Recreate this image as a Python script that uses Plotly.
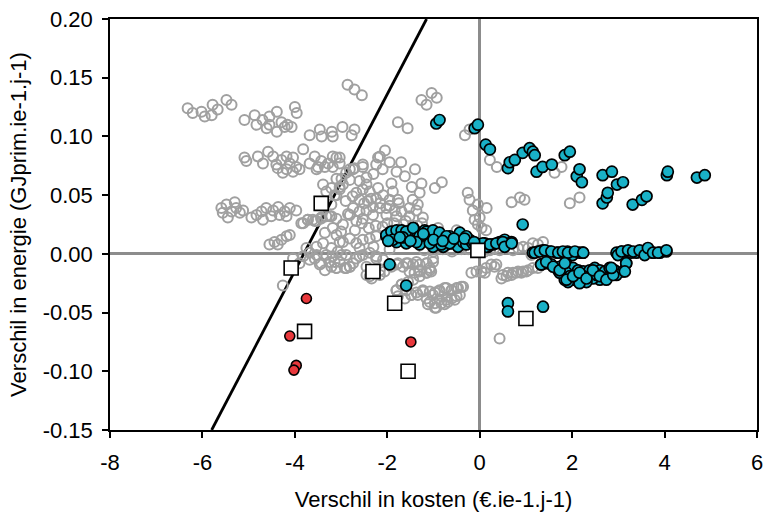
import plotly.graph_objects as go

# Overige varianten (open grijze cirkels)
gray_x = [
    -6.32, -6.21, -6.02, -5.95, -5.80, -5.78, -5.67, -5.48, -5.37,
    -5.09, -4.87, -4.83, -4.70, -4.61, -4.55, -4.55, -4.39, -4.39, -4.29, -4.22, -4.16, -4.07, -3.96, -4.00,
    -3.68, -3.46, -3.42, -3.20, -3.18, -2.97, -2.77, -2.71,
    -2.86, -2.71, -2.55,
    -1.26, -1.15, -1.04, -0.93, -1.77, -1.56, -0.32, -0.22,
    0.22, 0.37, 1.62, 1.77, 1.95, 2.16, 0.69, 0.87, 0.97,
    -0.26, -0.22, -0.15, -0.04, 0.00, 0.15, -0.04, -0.11, 0.04, 0.14,
    -2.16, -0.97, -0.82, -1.47, -1.26, -1.30, -1.45, -1.34, -1.23, -1.91, -1.88, -1.95, -1.77,
    -5.09, -5.05, -4.80, -4.69, -4.58, -4.47, -4.40, -4.29, -4.18, -4.11, -4.04, -3.97, -3.82, -3.68, -3.57,
    -3.50, -3.43, -3.28, -3.18, -3.03, -2.89, -2.74, -2.53,
    -4.37, -4.26, -4.18, -4.04, -3.90, -3.53, -3.35, -3.18,
    -5.59, -5.56, -5.48, -5.45, -5.37, -5.30, -5.27, -5.19, -5.12, -4.94, -4.83, -4.72, -4.69, -4.62,
    -4.51, -4.47, -4.36, -4.33, -4.22, -4.18, -4.11, -3.97, -3.86, -3.72, -3.57, -3.43, -3.25,
    -4.55, -4.44, -4.29, -4.18, -4.37, -4.11,
    -3.82, -3.72, -3.61, -3.53, -3.43, -3.32, -3.21,
    -3.75, -3.68, -3.53, -3.57, -3.39, -3.32, -3.21, -3.43, -3.25, -3.10, -3.03, -3.14, -2.99, -2.89,
    -3.39, -3.32, -3.21, -3.10, -3.03, -2.99,
    -4.26, -4.04, -3.90, -3.82, -3.68, -3.53, -3.46, -3.35, -3.21, -3.18, -3.03, -2.89, -2.74, -2.60,
    -2.45, -2.38, -2.24,
    -3.10, -2.96, -3.14, -3.03, -3.21, -2.81, -2.60, -2.45, -2.53, -2.67, -2.38, -2.20, -2.09, -2.24,
    -2.42, -2.60, -2.74, -2.81, -2.60, -2.45, -2.31, -2.16, -2.02, -1.84, -1.69, -1.52, -1.37, -1.52,
    -1.80, -2.02, -2.31, -2.53, -2.67, -3.10, -3.18, -2.96, -2.81, -2.96, -2.67, -2.53, -2.38, -2.24,
    -3.07, -2.89, -2.67, -2.53, -2.38, -2.24, -2.09, -1.80, -1.59, -1.37, -1.15, -1.01, -1.08, -1.30,
    -1.52, -3.10, -2.81,
    -3.10, -3.03, -2.81, -2.71, -2.53, -2.20, -2.24,
    -2.05, -1.95, -1.80, -1.62, -1.40, -2.30, -2.45, -1.70, -2.10,
    -3.10, -2.92, -2.81, -2.45, -2.34, -2.16, -2.06, -1.80, -1.69, -1.55, -1.44, -1.30, -1.15, -1.08,
    -1.77, -1.62, -1.48, -1.34, -1.23, -1.15, -1.01, -0.87, -0.76, -0.61, -0.47, -0.36,
    -1.12, -0.97, -0.83, -0.69, -0.54,
    -2.16, -1.91, -1.77, -1.66, -1.55, -1.44, -1.30, -1.15, -1.01, -1.41, -1.30, -1.15, -1.05,
    -1.80, -1.69, -1.59, -1.48, -1.37, -1.23, -1.08, -0.97, -0.87, -0.72, -0.61, -0.50, -0.40,
    -1.08, -0.97, -0.87, -0.72, -0.61, -0.50, -0.43, -0.94, -0.76,
    -0.18, -0.07, 0.04, 0.14, 0.32, 0.47, 0.58, 0.69, 0.79, 0.90, 1.01, 1.15, 1.26,
    0.04, 0.11, 0.25, 0.36, 0.50, 0.61, 0.72, 0.83, 0.94, 1.05, 1.37,
    0.11, 0.22, 0.32, 0.43, 0.72, 0.83, 0.94, 1.05, 1.15, 1.26, 1.37, 1.12, 1.19,
    0.43,
    -1.20, -1.00, -0.80, -0.60, -0.40, -1.35, -0.90, -0.50, -0.25,
    -2.90, -2.75, -2.50, -2.35, -2.15, -1.95, -1.75, -2.85, -2.55, -2.25, -2.00, -1.65,
    -3.00, -2.70, -2.40, -2.10, -1.85, -1.60, -1.45, -1.25, -2.60, -2.30, -1.95, -3.35,
]
gray_y = [
    0.124, 0.120, 0.121, 0.117, 0.118, 0.127, 0.123, 0.131, 0.127,
    0.114, 0.118, 0.110, 0.114, 0.107, 0.117, 0.110, 0.104, 0.121, 0.112, 0.108, 0.110, 0.108, 0.120, 0.125,
    0.101, 0.106, 0.100, 0.104, 0.100, 0.108, 0.101, 0.106,
    0.144, 0.140, 0.135,
    0.131, 0.127, 0.137, 0.133, 0.112, 0.107, 0.101, 0.106,
    0.080, 0.074, 0.069, 0.074, 0.043, 0.048, 0.044, 0.048, 0.046,
    0.052, 0.046, 0.037, 0.042, 0.031, 0.039, 0.025, 0.029, 0.022, 0.020,
    0.083, 0.056, 0.061, 0.057, 0.060, 0.052, 0.046, 0.042, 0.031, 0.060, 0.053, 0.046, 0.046,
    0.082, 0.079, 0.083, 0.077, 0.087, 0.083, 0.076, 0.080, 0.083, 0.077, 0.082, 0.074, 0.089, 0.077, 0.083,
    0.074, 0.079, 0.077, 0.083, 0.082, 0.069, 0.072, 0.076,
    0.073, 0.069, 0.072, 0.070, 0.072, 0.072, 0.074, 0.074,
    0.039, 0.035, 0.042, 0.031, 0.036, 0.044, 0.039, 0.035, 0.037, 0.031, 0.033, 0.036, 0.029, 0.039,
    0.032, 0.037, 0.040, 0.033, 0.036, 0.032, 0.039, 0.037, 0.026, 0.029, 0.028, 0.031, 0.032,
    0.008, 0.010, 0.012, 0.015, 0.008, 0.016,
    0.026, 0.029, 0.029, 0.028, 0.030, 0.032, 0.032,
    0.005, 0.001, 0.006, -0.004, 0.009, -0.001, 0.005, -0.008, -0.007, 0.016, 0.010, -0.007, -0.001, -0.012,
    0.059, 0.053, 0.056, 0.050, 0.057, 0.064,
    -0.027, -0.004, -0.008, -0.002, -0.005, -0.001, -0.009, -0.014, -0.011, -0.002, -0.007, -0.012, -0.008, -0.002,
    -0.011, -0.019, -0.004,
    0.064, 0.059, 0.050, 0.055, 0.042, 0.063, 0.062, 0.059, 0.055, 0.052, 0.053, 0.056, 0.050, 0.047,
    0.045, 0.046, 0.039, 0.033, 0.036, 0.037, 0.040, 0.039, 0.039, 0.037, 0.036, 0.039, 0.037, 0.032,
    0.032, 0.033, 0.033, 0.030, 0.028, 0.030, 0.022, 0.025, 0.013, 0.010, 0.009, 0.012, 0.013, 0.015,
    0.002, -0.001, -0.004, -0.001, 0.001, -0.002, -0.005, -0.009, -0.008, -0.007, -0.008, -0.004, -0.012, -0.014,
    -0.015, -0.012, -0.011,
    0.082, 0.077, 0.072, 0.073, 0.074, 0.082, 0.076,
    0.088, 0.078, 0.070, 0.066, 0.072, 0.068, 0.065, 0.078, 0.072,
    -0.012, -0.012, -0.011, -0.018, -0.021, -0.018, -0.015, -0.031, -0.026, -0.024, -0.022, -0.019, -0.016, -0.014,
    -0.036, -0.038, -0.035, -0.035, -0.032, -0.038, -0.035, -0.032, -0.029, -0.031, -0.029, -0.028,
    -0.043, -0.046, -0.042, -0.041, -0.039,
    -0.014, -0.011, -0.008, -0.011, -0.008, -0.009, -0.009, -0.008, -0.007, -0.016, -0.015, -0.016, -0.015,
    -0.031, -0.026, -0.031, -0.035, -0.033, -0.031, -0.032, -0.033, -0.031, -0.029, -0.031, -0.029, -0.028,
    -0.041, -0.042, -0.039, -0.039, -0.038, -0.036, -0.035, -0.046, -0.043,
    -0.016, -0.015, -0.015, -0.012, -0.011, -0.021, -0.019, -0.018, -0.016, -0.016, -0.015, -0.012, -0.012,
    -0.015, -0.016, -0.009, -0.009, -0.018, -0.016, -0.016, -0.015, -0.015, -0.014, -0.009,
    0.002, 0.003, 0.005, 0.003, 0.003, 0.005, 0.006, 0.005, 0.009, 0.008, 0.010, -0.001, 0.001,
    -0.072,
    0.003, 0.002, 0.004, 0.002, 0.004, 0.024, 0.022, 0.020, 0.004,
    0.045, 0.049, 0.043, 0.047, 0.043, 0.041, 0.043, 0.034, 0.026, 0.024, 0.026, 0.025,
    0.019, 0.020, 0.022, 0.023, 0.026, 0.028, 0.024, 0.026, 0.005, 0.006, 0.004, 0.018,
]

# Varianten met voordeel (cyaan)
cyan_x = [
    -0.94, -0.87, -0.11, -0.04, 0.13, 0.22,
    0.61, 0.65, 0.76, 0.93, 1.08, 1.15, 1.19, 1.23, 1.36, 1.56, 1.84, 1.95,
    2.10, 2.16, 2.21, 2.66, 2.86, 2.97, 3.10, 2.66, 2.75, 2.77, 3.31, 3.51, 3.61,
    4.05, 4.07, 4.70, 4.87, 0.93,
    -2.02, -1.95, -1.91, -1.84, -1.77, -1.69, -1.62, -1.55, -1.48, -1.44, -1.37, -1.34, -1.26, -1.19,
    -1.15, -1.08, -1.05, -0.97, -0.94, -0.87, -0.83, -0.76, -0.72, -0.65, -0.61, -0.54, -0.47, -0.43,
    -0.36, -0.29, -0.22, -0.15, -0.07, 0.04, 0.11, 0.18, -1.80, -1.59, -1.30, -1.01, -0.79,
    0.00, 0.14, 0.29, 0.43, 0.54, 0.69, -0.43, -0.29, -0.58,
    -2.02, -1.91, -1.80, -1.69, -1.59, -1.44, -1.30, -1.15, -1.01, -0.87, -0.72, -1.88, -1.66, -1.37,
    -1.08, -0.83, -0.65,
    0.07, 0.22, 0.36, 0.50, 0.54, 0.69,
    1.15, 1.26, 1.36, 1.52, 1.67, 1.80, 1.90, 2.01, 2.16, 2.23,
    1.19, 1.30, 1.41, 1.55, 1.70, 1.80, 1.91, 2.06, 2.24,
    1.33, 1.44, 1.55, 1.73, 1.88, 1.95, 2.02, 2.13, 2.24, 2.38, 2.49, 2.60, 2.71, 2.81, 2.92, 2.85,
    2.74, 2.60, 2.45, 2.31, 2.16, 2.02, 1.91, 1.84, 1.70, 1.73, 1.88, 2.09, 2.24, 2.53, 3.10, 3.17,
    2.96, 2.16, 1.95,
    1.33, 1.44, 1.59, 1.73, 1.84, 1.88, 2.02, 2.16, 2.31, 2.45, 2.60, 2.74, 2.89,
    2.96, 3.07, 3.17, 3.28, 3.39, 3.54, 3.64, 3.75, 3.90, 4.04,
    2.99, 3.07, 3.21, 3.32, 3.46, 3.57, 3.64, 3.75, 3.86, 4.04,
    3.17, 3.14, 2.85,
    -1.95, -1.59, 0.61, 0.61, 1.37,
    -1.98, -1.73, -1.50, -1.22, -1.00, -0.80, -0.56, -0.33, -0.12,
]
cyan_y = [
    0.111, 0.114, 0.107, 0.110, 0.093, 0.089,
    0.073, 0.078, 0.080, 0.086, 0.090, 0.087, 0.084, 0.070, 0.074, 0.076, 0.084, 0.087,
    0.066, 0.072, 0.061, 0.067, 0.070, 0.059, 0.061, 0.043, 0.048, 0.052, 0.042, 0.046, 0.049,
    0.067, 0.070, 0.065, 0.067, 0.025,
    0.015, 0.018, 0.012, 0.019, 0.013, 0.016, 0.012, 0.019, 0.015, 0.022, 0.012, 0.018, 0.013, 0.020,
    0.015, 0.010, 0.019, 0.013, 0.008, 0.016, 0.010, 0.013, 0.008, 0.015, 0.009, 0.010, 0.006, 0.016,
    0.010, 0.008, 0.012, 0.009, 0.008, 0.006, 0.009, 0.006, 0.010, 0.009, 0.008, 0.006, 0.006,
    0.008, 0.006, 0.008, 0.010, 0.012, 0.010, 0.018, 0.015, 0.012,
    0.016, 0.019, 0.020, 0.020, 0.019, 0.022, 0.015, 0.019, 0.020, 0.018, 0.015, 0.012, 0.014, 0.010,
    0.009, 0.008, 0.009,
    0.009, 0.008, 0.009, 0.010, 0.006, 0.009,
    0.001, 0.002, 0.003, 0.002, 0.001, 0.001, 0.002, -0.001, 0.001, 0.001,
    0.001, 0.002, 0.003, 0.002, 0.001, 0.002, 0.001, 0.002, 0.001,
    -0.009, -0.008, -0.009, -0.011, -0.009, -0.015, -0.012, -0.014, -0.015, -0.014, -0.012, -0.014, -0.015, -0.012, -0.014, -0.018,
    -0.021, -0.022, -0.021, -0.024, -0.022, -0.022, -0.024, -0.022, -0.014, -0.016, -0.016, -0.019, -0.019, -0.018, -0.015, -0.008,
    -0.018, -0.025, -0.019,
    -0.009, -0.007, -0.011, -0.014, -0.008, -0.022, -0.019, -0.016, -0.021, -0.014, -0.019, -0.022, -0.018,
    0.001, 0.002, 0.002, 0.001, 0.001, 0.001, 0.002, 0.001, 0.001, 0.002,
    -0.001, 0.002, 0.003, 0.002, 0.003, -0.001, 0.005, 0.001, 0.001, 0.003,
    -0.008, -0.015, -0.012,
    -0.009, -0.027, -0.042, -0.049, -0.045,
    0.011, 0.014, 0.011, 0.017, 0.012, 0.011, 0.013, 0.013, 0.010,
]

# Varianten met nadeel (rood)
red_x = [-3.75, -4.11, -3.97, -4.02, -1.49]
red_y = [-0.038, -0.070, -0.095, -0.099, -0.075]

# Referentiewoningen (open vierkanten)
square_x = [-3.43, -4.08, -3.79, -2.31, -1.84, -1.55, -0.04, 1.00]
square_y = [0.043, -0.012, -0.066, -0.015, -0.042, -0.100, 0.003, -0.055]

# Grenslijn
line_x = [-5.80, -1.15]
line_y = [-0.15, 0.20]

x_ticks = [-8, -6, -4, -2, 0, 2, 4, 6]
x_labels = ["-8", "-6", "-4", "-2", "0", "2", "4", "6"]
y_ticks = [-0.15, -0.10, -0.05, 0.0, 0.05, 0.10, 0.15, 0.20]
y_labels = ["-0.15", "-0.10", "-0.05", "0.00", "0.05", "0.10", "0.15", "0.20"]

FONT = "Liberation Sans, Arial, sans-serif"

fig = go.Figure()
fig.add_trace(go.Scatter(
    x=line_x, y=line_y, mode="lines",
    line=dict(color="black", width=2.8), hoverinfo="skip",
))
fig.add_trace(go.Scatter(
    x=gray_x, y=gray_y, mode="markers",
    marker=dict(symbol="circle-open", size=10, color="#a0a0a0", line=dict(width=2)),
))
fig.add_trace(go.Scatter(
    x=cyan_x, y=cyan_y, mode="markers",
    marker=dict(symbol="circle", size=11, color="#19b1c7", line=dict(color="black", width=1.7)),
))
fig.add_trace(go.Scatter(
    x=red_x, y=red_y, mode="markers",
    marker=dict(symbol="circle", size=10, color="#e8383c", line=dict(color="black", width=1.6)),
))
fig.add_trace(go.Scatter(
    x=square_x, y=square_y, mode="markers",
    marker=dict(symbol="square", size=14, color="white", line=dict(color="black", width=1.6)),
))

axis_common = dict(
    showgrid=False, automargin=False,
    showline=True, linecolor="black", linewidth=1.5, mirror=True,
    ticks="outside", ticklen=6, tickwidth=1.5, tickcolor="black",
    zeroline=True, zerolinecolor="#8c8c8c", zerolinewidth=3,
    tickfont=dict(family=FONT, size=22, color="black"),
    ticklabeloverflow="allow",
)

fig.update_xaxes(
    range=[-8, 6], tickvals=x_ticks, ticktext=x_labels,
    ticklabelstandoff=6,
    title=dict(text="Verschil in kosten (€.ie-1.j-1)", font=dict(family=FONT, size=22, color="black"), standoff=18),
    **axis_common,
)
fig.update_yaxes(
    range=[-0.15, 0.20], tickvals=y_ticks, ticktext=y_labels,
    ticklabelstandoff=5,
    title=dict(text="Verschil in energie (GJprim.ie-1.j-1)", font=dict(family=FONT, size=22, color="black"), standoff=10),
    **axis_common,
)

fig.update_layout(
    width=763, height=512,
    margin=dict(l=110, r=6, t=19, b=82),
    plot_bgcolor="white", paper_bgcolor="white",
    showlegend=False,
    font=dict(family=FONT),
)

fig.write_html("out.html")
